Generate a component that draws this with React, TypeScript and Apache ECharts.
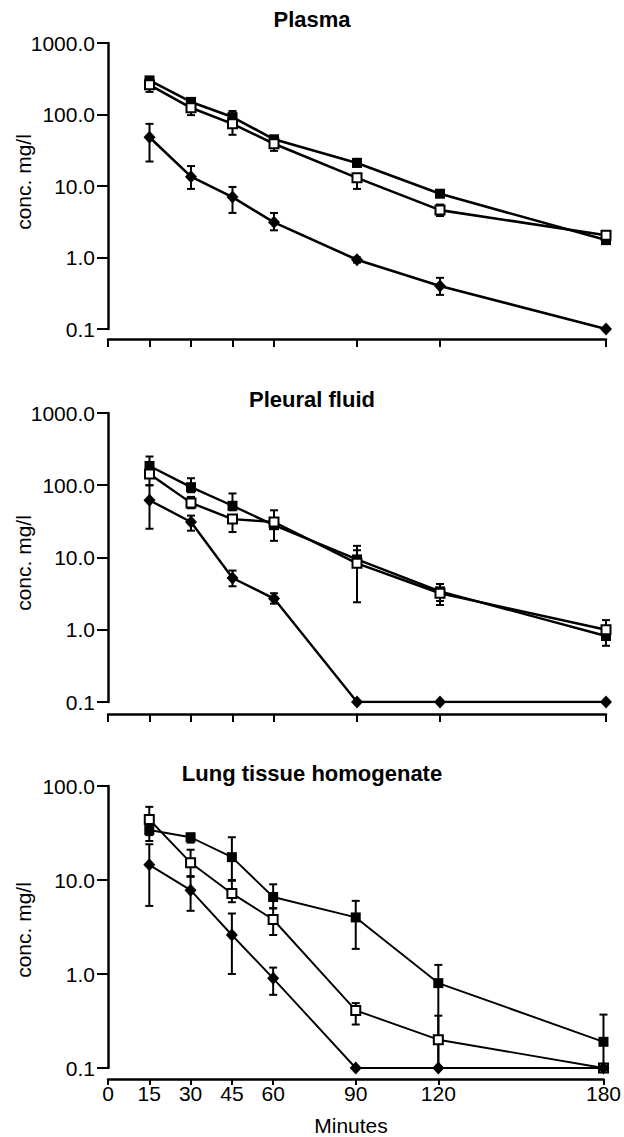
import React, { useEffect, useRef } from "react";
import * as echarts from "echarts";

const minutes = [15, 30, 45, 60, 90, 120, 180];
const xTickValues = [0, 15, 30, 45, 60, 90, 120, 180];
const panelTitles = ["Plasma", "Pleural fluid", "Lung tissue homogenate"];
const yAxisName = "conc. mg/l";
const xAxisName = "Minutes";
const yMaxes = [1000, 1000, 100];

// Plasma
const plasmaFilled = [300, 150, 92, 45, 21, 7.8, 1.75];
const plasmaFilledLo = [280, 140, 84, 42, 19, 7.2, 1.55];
const plasmaFilledHi = [330, 165, 112, 50, 24, 8.8, 1.9];
const plasmaOpen = [260, 124, 74, 39, 13, 4.6, 2.05];
const plasmaOpenLo = [207, 98, 52, 31, 9.1, 3.8, 1.85];
const plasmaOpenHi = [260, 124, 74, 39, 13, 5.5, 2.2];
const plasmaDiamond = [48, 13.5, 7.0, 3.1, 0.93, 0.4, 0.1];
const plasmaDiamondLo = [22, 9.1, 4.2, 2.4, 0.85, 0.3, 0.1];
const plasmaDiamondHi = [74, 19, 9.7, 4.2, 1.0, 0.52, 0.1];

// Pleural fluid
const pleuralFilled = [185, 94, 52, 28, 9.4, 3.4, 0.82];
const pleuralFilledLo = [150, 80, 45, 17, 8.0, 2.5, 0.6];
const pleuralFilledHi = [250, 125, 77, 45, 14.5, 4.3, 0.9];
const pleuralOpen = [143, 57, 34, 31, 8.3, 3.2, 1.0];
const pleuralOpenLo = [100, 48, 22.5, 31, 2.4, 2.2, 0.85];
const pleuralOpenHi = [143, 69, 34, 31, 12.6, 3.6, 1.36];
const pleuralDiamond = [62, 31, 5.2, 2.7, 0.1, 0.1, 0.1];
const pleuralDiamondLo = [25, 23.5, 4.0, 2.3, 0.1, 0.1, 0.1];
const pleuralDiamondHi = [100, 38, 6.6, 3.2, 0.1, 0.1, 0.1];

// Lung tissue homogenate
const lungFilled = [34, 28.5, 17.5, 6.6, 4.0, 0.8, 0.19];
const lungFilledLo = [26, 25, 9.8, 5.0, 1.85, 0.1, 0.1];
const lungFilledHi = [40, 31, 28.5, 9.0, 6.0, 1.25, 0.37];
const lungOpen = [44, 15.3, 7.2, 3.8, 0.41, 0.2, 0.1];
const lungOpenLo = [30, 10.8, 5.8, 2.6, 0.29, 0.1, 0.1];
const lungOpenHi = [60, 21, 10, 5.0, 0.49, 0.36, 0.1];
const lungDiamond = [14.5, 7.8, 2.6, 0.9, 0.1, 0.1, 0.1];
const lungDiamondLo = [5.3, 4.7, 1.0, 0.6, 0.1, 0.1, 0.1];
const lungDiamondHi = [24, 11, 4.4, 1.17, 0.1, 0.1, 0.1];

const FONT = "'Liberation Sans', Arial, Helvetica, sans-serif";

type SeriesDef = { v: number[]; lo: number[]; hi: number[]; kind: "filled" | "open" | "diamond" };

const panels: SeriesDef[][] = [
  [
    { v: plasmaFilled, lo: plasmaFilledLo, hi: plasmaFilledHi, kind: "filled" },
    { v: plasmaOpen, lo: plasmaOpenLo, hi: plasmaOpenHi, kind: "open" },
    { v: plasmaDiamond, lo: plasmaDiamondLo, hi: plasmaDiamondHi, kind: "diamond" },
  ],
  [
    { v: pleuralFilled, lo: pleuralFilledLo, hi: pleuralFilledHi, kind: "filled" },
    { v: pleuralOpen, lo: pleuralOpenLo, hi: pleuralOpenHi, kind: "open" },
    { v: pleuralDiamond, lo: pleuralDiamondLo, hi: pleuralDiamondHi, kind: "diamond" },
  ],
  [
    { v: lungFilled, lo: lungFilledLo, hi: lungFilledHi, kind: "filled" },
    { v: lungOpen, lo: lungOpenLo, hi: lungOpenHi, kind: "open" },
    { v: lungDiamond, lo: lungDiamondLo, hi: lungDiamondHi, kind: "diamond" },
  ],
];

const layout = [
  { top: 43, height: 286, offset: 10, titleY: 19, nameY: 182, lw: 2.6 },
  { top: 413, height: 289, offset: 12, titleY: 399, nameY: 563, lw: 2.4 },
  { top: 786, height: 282, offset: 11, titleY: 773, nameY: 930, lw: 1.9 },
];

export default function App() {
  const ref = useRef<HTMLDivElement>(null);
  useEffect(() => {
    if (!ref.current) return;
    const chart = echarts.init(ref.current, null, { renderer: "svg" });

    const grids = layout.map((l) => ({ left: 108, right: 18, top: l.top, height: l.height }));
    const xAxes = layout.map((l, i) => ({
      type: "value",
      gridIndex: i,
      min: 0,
      max: 180,
      interval: 15,
      offset: l.offset,
      axisLine: { show: true, lineStyle: { color: "#000", width: 2.5 } },
      axisTick: { show: true, length: i === 2 ? 6 : 8, customValues: xTickValues, lineStyle: { color: "#000", width: 2 } },
      axisLabel: {
        show: i === 2,
        customValues: xTickValues,
        color: "#000",
        fontFamily: FONT,
        fontSize: 21,
        margin: 4,
      },
      splitLine: { show: false },
    }));
    const yAxes = layout.map((l, i) => ({
      type: "log",
      logBase: 10,
      gridIndex: i,
      min: 0.1,
      max: yMaxes[i],
      axisLine: { show: true, lineStyle: { color: "#000", width: 2.5 } },
      axisTick: { show: true, length: 11, lineStyle: { color: "#000", width: 2 } },
      minorTick: { show: false },
      axisLabel: {
        color: "#000",
        fontFamily: FONT,
        fontSize: 21,
        margin: 13,
        formatter: (v: number) => Number(v).toFixed(1),
      },
      splitLine: { show: false },
    }));

    const series: any[] = [];
    panels.forEach((defs, pi) => {
      const lw = layout[pi].lw;
      defs.forEach((d) => {
        series.push({
          type: "custom",
          xAxisIndex: pi,
          yAxisIndex: pi,
          z: 2,
          encode: { x: 0, y: [1, 2, 3] },
          data: minutes.map((m, k) => [m, d.v[k], d.lo[k], d.hi[k]]),
          renderItem: (params: any, api: any) => {
            const x = api.value(0);
            const v = api.value(1);
            const lo = api.value(2);
            const hi = api.value(3);
            const pLo = api.coord([x, lo]);
            const pHi = api.coord([x, hi]);
            const style = { stroke: "#000", lineWidth: 2, fill: null };
            const children: any[] = [];
            if (hi > lo) {
              children.push({ type: "line", shape: { x1: pLo[0], y1: pLo[1], x2: pHi[0], y2: pHi[1] }, style });
            }
            const cw = 4;
            if (lo < v) children.push({ type: "line", shape: { x1: pLo[0] - cw, y1: pLo[1], x2: pLo[0] + cw, y2: pLo[1] }, style });
            if (hi > v) children.push({ type: "line", shape: { x1: pHi[0] - cw, y1: pHi[1], x2: pHi[0] + cw, y2: pHi[1] }, style });
            return { type: "group", children };
          },
        });
      });
      defs.forEach((d) => {
        const sym = d.kind === "diamond" ? "diamond" : "rect";
        const size = d.kind === "diamond" ? [12, 13] : d.kind === "filled" ? 10 : 9;
        series.push({
          type: "line",
          xAxisIndex: pi,
          yAxisIndex: pi,
          z: 3,
          data: minutes.map((m, k) => [m, d.v[k]]),
          symbol: sym,
          symbolSize: size,
          showSymbol: true,
          lineStyle: { color: "#000", width: lw },
          itemStyle: {
            color: d.kind === "open" ? "#fff" : "#000",
            borderColor: "#000",
            borderWidth: d.kind === "open" ? 2 : 0,
          },
          emphasis: { disabled: true },
        });
      });
    });

    const graphics: any[] = [];
    layout.forEach((l, i) => {
      graphics.push({
        type: "text",
        x: 312,
        y: l.titleY,
        style: {
          text: panelTitles[i],
          fontFamily: FONT,
          fontWeight: "bold",
          fontSize: 22,
          fill: "#000",
          textAlign: "center",
          textVerticalAlign: "middle",
        },
      });
      graphics.push({
        type: "text",
        x: 23,
        y: l.nameY,
        rotation: Math.PI / 2,
        style: {
          text: yAxisName,
          fontFamily: FONT,
          fontSize: 21,
          fill: "#000",
          textAlign: "center",
          textVerticalAlign: "middle",
        },
      });
    });
    graphics.push({
      type: "text",
      x: 351,
      y: 1125,
      style: {
        text: xAxisName,
        fontFamily: FONT,
        fontSize: 21,
        fill: "#000",
        textAlign: "center",
        textVerticalAlign: "middle",
      },
    });

    chart.setOption({
      animation: false,
      backgroundColor: "#fff",
      grid: grids,
      xAxis: xAxes,
      yAxis: yAxes,
      series,
      graphic: graphics,
    });
    return () => chart.dispose();
  }, []);
  return (
    <div
      ref={ref}
      style={{ position: "absolute", left: 0, top: 0, width: 624, height: 1137, background: "#fff" }}
    />
  );
}
